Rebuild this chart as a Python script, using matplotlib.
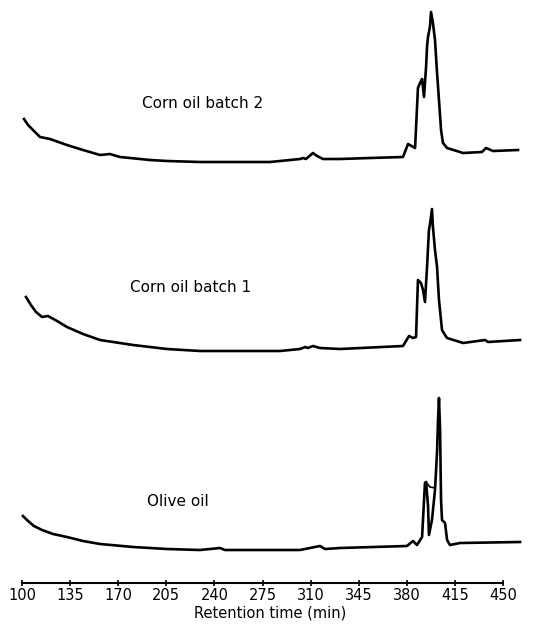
import matplotlib.pyplot as plt
import numpy as np

# retention time (min) and detector signal for each run
corn2_time = [101.5, 104.4, 108.0, 110.9, 113.1, 116.7, 120.4, 132.7, 144.4, 156.8,
              164.0, 171.3, 193.1, 205.5, 229.5, 280.5, 302.3, 304.5, 306.6, 311.7,
              314.7, 319.0, 331.4, 353.2, 377.2, 380.9, 386.0, 388.1, 389.6, 391.1,
              392.5, 394.0, 394.7, 395.4, 396.8, 397.6, 399.0, 400.5, 402.0, 403.4,
              404.9, 406.3, 409.3, 420.9, 434.7, 437.6, 442.7, 460.9]
corn2_signal = [43, 37, 32, 28, 25, 24, 23, 17, 12, 7,
                8, 5, 2, 1, 0, 0, 3, 4, 3, 9,
                6, 3, 3, 4, 5, 18, 14, 74, 79, 83,
                65, 95, 115, 125, 135, 150, 139, 122, 89, 62,
                32, 19, 14, 9, 10, 14, 11, 12]

corn1_time = [102.9, 106.5, 110.2, 114.6, 118.9, 125.5, 132.7, 144.4, 156.8, 180.8,
              205.5, 229.5, 287.7, 302.3, 306.0, 308.0, 311.7, 316.8, 331.4, 377.2,
              381.6, 384.5, 386.7, 388.1, 390.3, 391.8, 393.2, 394.7, 396.1, 396.8,
              398.3, 399.0, 400.5, 402.0, 403.4, 405.6, 407.8, 409.3, 420.9, 436.9,
              439.1, 462.4]
corn1_signal = [54, 46, 39, 34, 35, 30, 24, 17, 11, 6,
                2, 0, 0, 2, 4, 3, 5, 3, 2, 5,
                15, 13, 14, 71, 68, 61, 49, 84, 121, 126,
                142, 124, 101, 84, 51, 21, 16, 13, 8, 11,
                9, 11]

olive_time = [100.7, 104.4, 108.7, 114.6, 122.6, 132.7, 144.4, 156.8, 180.8, 205.5,
              229.5, 244.1, 247.7, 302.3, 316.8, 320.5, 331.4, 380.1, 384.5, 387.4,
              391.1, 393.2, 394.0, 395.4, 396.1, 398.3, 400.5, 402.0, 402.7, 403.4,
              404.2, 404.9, 405.6, 407.8, 409.3, 411.4, 418.7, 462.4]
olive_signal = [34, 29, 24, 20, 16, 13, 9, 6, 3, 1,
                0, 2, 0, 0, 4, 1, 2, 4, 9, 5,
                13, 67, 68, 45, 15, 30, 60, 98, 130, 152,
                120, 50, 30, 27, 10, 5, 7, 8]

# pen retrace between the two olive oil peaks
olive_retrace_time = [394.0, 396.8, 400.5]
olive_retrace_signal = [68, 63, 62]

run_names = ['Corn oil batch 2', 'Corn oil batch 1', 'Olive oil']
tick_values = [100, 135, 170, 205, 240, 275, 310, 345, 380, 415, 450]

runs = [(corn2_time, corn2_signal), (corn1_time, corn1_signal), (olive_time, olive_signal)]
offsets = [421, 232, 33]
label_pos = [(187, 480), (178.6, 295), (191, 82)]

fig = plt.figure(figsize=(5.4, 6.29), dpi=100)
ax = fig.add_axes([0.0, 46 / 629, 1.0, 583 / 629])

for (t, s), off, name, (lx, ly) in zip(runs, offsets, run_names, label_pos):
    ax.plot(t, np.array(s) + off, color='black', lw=1.9, solid_joinstyle='round', clip_on=False)
    ax.text(lx, ly, name, fontsize=11, ha='left', va='center')

ax.plot(olive_retrace_time, np.array(olive_retrace_signal) + offsets[2],
        color='black', lw=1.2)

ax.set_xlim(84.0, 476.9)
ax.set_ylim(0, 583)

for side in ['top', 'left', 'right']:
    ax.spines[side].set_visible(False)
ax.spines['bottom'].set_bounds(100, 450)
ax.spines['bottom'].set_linewidth(1.5)

ax.set_yticks([])
ax.set_xticks(tick_values)
ax.set_xticklabels([str(v) for v in tick_values])
ax.tick_params(axis='x', direction='inout', length=5, width=1.2, pad=1, labelsize=10.5)
ax.set_xlabel('Retention time (min)', fontsize=10.5, labelpad=2)

fig.savefig('out.png', dpi=100)
